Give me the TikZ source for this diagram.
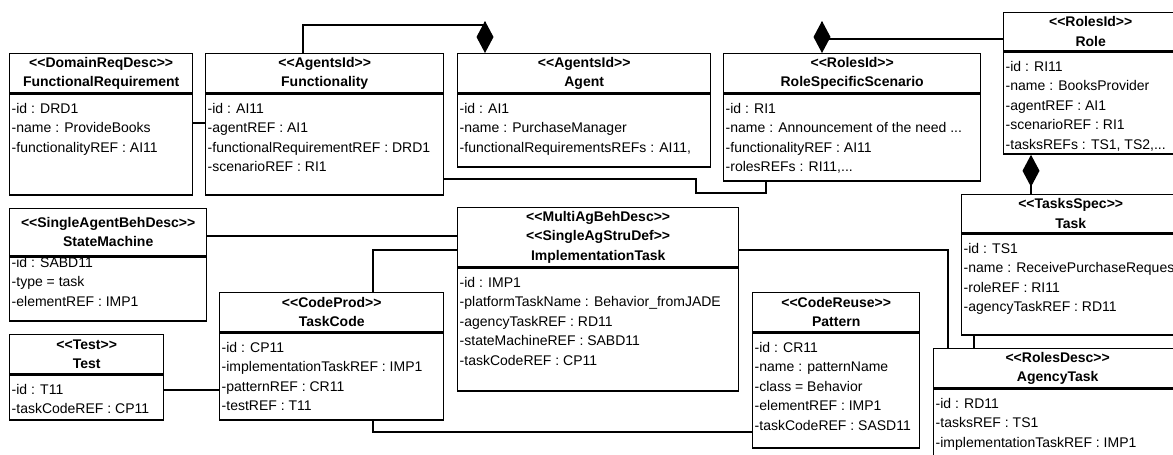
\documentclass[tikz,border=0pt]{standalone}
\usepackage{fontspec}
\setmainfont{Liberation Sans}
\usetikzlibrary{arrows.meta}

\begin{document}
\begin{tikzpicture}[x=0.5pt,y=-0.5pt,line width=0.7pt,
	kopf/.style={draw,anchor=north west,align=center,inner sep=0pt,
		font=\bfseries\fontsize{7}{9.75}\selectfont},
	rumpf/.style={draw,anchor=north west,inner sep=0pt},
	attr/.style={anchor=north west,align=left,inner xsep=1pt,inner ysep=4.5pt,
		font=\fontsize{7}{9.75}\selectfont},
	komp/.style={-{Diamond[length=16pt,width=8.5pt]}}]
\def\px{0.5pt}

\def\st#1{<{}<#1>{}>}

% name, x, y, width, head height, body height, head, attributes, shift
\def\klasse#1#2#3#4#5#6#7#8#9{
	\node[kopf,minimum width={#4*\px},minimum height={#5*\px}] (#1-kopf) at (#2,#3) {#7};
	\node[rumpf,minimum width={#4*\px},minimum height={#6*\px}] (#1) at (#1-kopf.south west) {};
	\node[attr] (#1-attr) at ([yshift=#9*\px]#1.north west) {#8};
}

\clip (0,0) rectangle (1173,455);

\klasse{fr}{9}{53}{183}{39}{101}{\st{DomainReqDesc}\\FunctionalRequirement}
	{-id : DRD1\\-name : ProvideBooks\\-functionalityREF : AI11}{0}
\klasse{fn}{205}{53}{238}{39}{101}{\st{AgentsId}\\Functionality}
	{-id : AI11\\-agentREF : AI1\\-functionalRequirementREF : DRD1\\-scenarioREF : RI1}{0}
\klasse{ag}{457}{53}{253}{39}{73}{\st{AgentsId}\\Agent}
	{-id : AI1\\-name : PurchaseManager\\-functionalRequirementsREFs : AI11,}{0}
\klasse{rs}{723}{53}{257}{39}{87}{\st{RolesId}\\RoleSpecificScenario}
	{-id : RI1\\-name : Announcement of the need ...\\-functionalityREF : AI11\\-rolesREFs : RI11,...}{0}
\klasse{ro}{1003}{12}{174}{38}{102}{\st{RolesId}\\Role}
	{-id : RI11\\-name : BooksProvider\\-agentREF : AI1\\-scenarioREF : RI1\\-tasksREFs : TS1, TS2,...}{0}

\klasse{sm}{9}{208}{197}{47}{64}{\st{SingleAgentBehDesc}\\StateMachine}
	{-id : SABD11\\-type = task\\-elementREF : IMP1}{9}
\klasse{it}{457}{207}{281}{59}{123}{\st{MultiAgBehDesc}\\\st{SingleAgStruDef}\\ImplementationTask}
	{-id : IMP1\\-platformTaskName : Behavior\_fromJADE\\-agencyTaskREF : RD11\\-stateMachineREF : SABD11\\-taskCodeREF : CP11}{0}
\klasse{ta}{961}{194}{218}{38}{101}{\st{TasksSpec}\\Task}
	{-id : TS1\\-name : ReceivePurchaseReques\\-roleREF : RI11\\-agencyTaskREF : RD11}{0}

\klasse{tc}{219}{292}{224}{39}{87}{\st{CodeProd}\\TaskCode}
	{-id : CP11\\-implementationTaskREF : IMP1\\-patternREF : CR11\\-testREF : T11}{0}
\klasse{te}{9}{334}{154}{39}{45}{\st{Test}\\Test}
	{-id : T11\\-taskCodeREF : CP11}{0}
\klasse{pa}{752}{292}{167}{39}{115}{\st{CodeReuse}\\Pattern}
	{-id : CR11\\-name : patternName\\-class = Behavior\\-elementREF : IMP1\\-taskCodeREF : SASD11}{0}
\klasse{at}{933}{348}{248}{39}{120}{\st{RolesDesc}\\AgencyTask}
	{-id : RD11\\-tasksREF : TS1\\-implementationTaskREF : IMP1}{0}

% compositions
\draw[komp] (fn-kopf.north -| 303,0) |- (485,25) -- (ag-kopf.north -| 485,0);
\draw[komp] (ro-kopf.west |- 0,39) -| (rs-kopf.north -| 822,0);
\draw[komp] (ta-kopf.north -| 1031,0) -- (ro.south -| 1031,0);

% associations
\draw (fr.east |- 0,123) -- (fn.west |- 0,123);
\draw (fn.east |- 0,179) -| (696,193) -| (rs.south -| 766,0);
\draw (sm-kopf.east |- 0,236) -- (it-kopf.west |- 0,236);
\draw (tc-kopf.north -| 373,0) |- (it-kopf.west |- 0,250);
\draw (te.east |- 0,390) -- (tc.west |- 0,390);
\draw (tc.south -| 373,0) |- (pa.west |- 0,432);
\draw (it-kopf.east |- 0,250) -| (at-kopf.north -| 948,0);
\draw (ta.south -| 974,0) -- (at-kopf.north -| 974,0);

\end{tikzpicture}
\end{document}
